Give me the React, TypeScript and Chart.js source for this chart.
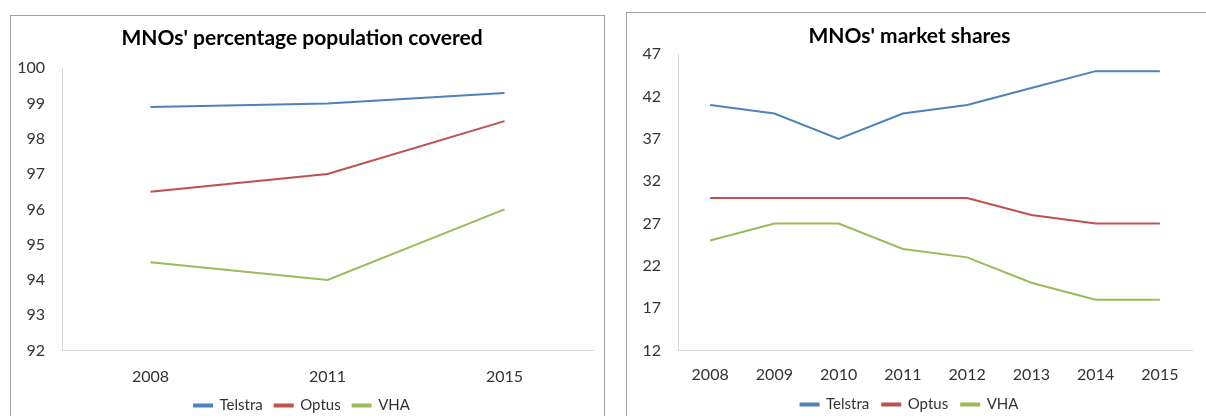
import React, { useEffect, useRef } from "react";
import { Chart, registerables } from "chart.js";

Chart.register(...registerables);

const coverageYears = ["2008", "2011", "2015"];
const coverageTelstra = [98.9, 99.0, 99.3];
const coverageOptus = [96.5, 97.0, 98.5];
const coverageVHA = [94.5, 94.0, 96.0];

const shareYears = ["2008", "2009", "2010", "2011", "2012", "2013", "2014", "2015"];
const shareTelstra = [41, 40, 37, 40, 41, 43, 45, 45];
const shareOptus = [30, 30, 30, 30, 30, 28, 27, 27];
const shareVHA = [25, 27, 27, 24, 23, 20, 18, 18];

const seriesNames = ["Telstra", "Optus", "VHA"];
const seriesColors = ["#4F81BD", "#C0504D", "#9BBB59"];

const FONT = "Lato, 'Open Sans', 'DejaVu Sans', sans-serif";

type Cfg = {
  title: string;
  labels: string[];
  values: number[][];
  yMin: number;
  yMax: number;
  yStep: number;
  titlePadTop: number;
  titlePadBottom: number;
  padRight: number;
  xPad: number;
  xHeight: number;
  legendPad: number;
};

function makeChart(canvas: HTMLCanvasElement, cfg: Cfg) {
  return new Chart(canvas, {
    type: "line",
    data: {
      labels: cfg.labels,
      datasets: cfg.values.map((vals, i) => ({
        label: seriesNames[i],
        data: vals,
        borderColor: seriesColors[i],
        backgroundColor: seriesColors[i],
        borderWidth: 2,
        pointRadius: 0,
        tension: 0,
      })),
    },
    options: {
      responsive: false,
      animation: false,
      events: [],
      layout: { padding: { left: 0, right: cfg.padRight, top: 0, bottom: 0 } },
      plugins: {
        title: {
          display: true,
          text: cfg.title,
          color: "#000",
          font: { family: FONT, size: 21, weight: "bold" },
          padding: { top: cfg.titlePadTop, bottom: cfg.titlePadBottom },
        },
        legend: {
          display: true,
          position: "bottom",
          labels: {
            color: "#333",
            font: { family: FONT, size: 15 },
            boxWidth: 18,
            boxHeight: 2,
            padding: cfg.legendPad,
          },
        },
        tooltip: { enabled: false },
      },
      scales: {
        x: {
          offset: true,
          grid: { display: false, drawTicks: false },
          border: { display: true, color: "#d9d9d9", width: 1 },
          ticks: {
            color: "#333",
            font: { family: FONT, size: 16 },
            padding: cfg.xPad,
            maxRotation: 0,
            autoSkip: false,
          },
          afterFit: (scale: any) => {
            scale.height = cfg.xHeight;
          },
        },
        y: {
          min: cfg.yMin,
          max: cfg.yMax,
          grid: { display: false, drawTicks: false },
          border: { display: true, color: "#d9d9d9", width: 1 },
          ticks: {
            stepSize: cfg.yStep,
            color: "#333",
            font: { family: FONT, size: 16 },
            padding: 17,
          },
          afterFit: (scale: any) => {
            scale.width = 51;
          },
        },
      },
    },
  });
}

function ChartBox(props: {
  left: number;
  top: number;
  width: number;
  height: number;
  canvasW: number;
  canvasH: number;
  cfg: Cfg;
}) {
  const ref = useRef<HTMLCanvasElement | null>(null);
  useEffect(() => {
    if (!ref.current) return;
    const ch = makeChart(ref.current, props.cfg);
    return () => ch.destroy();
  }, []);
  return (
    <div
      style={{
        position: "absolute",
        left: props.left,
        top: props.top,
        width: props.width,
        height: props.height,
        border: "1px solid #a0a0a0",
        boxSizing: "border-box",
        background: "#fff",
      }}
    >
      <canvas
        ref={ref}
        width={props.canvasW}
        height={props.canvasH}
        style={{ position: "absolute", left: 0, top: 0, width: props.canvasW, height: props.canvasH }}
      />
    </div>
  );
}

export default function App() {
  return (
    <div
      style={{
        position: "absolute",
        left: 0,
        top: 0,
        width: 1206,
        height: 416,
        overflow: "hidden",
        background: "#fff",
      }}
    >
      <ChartBox
        left={10}
        top={15}
        width={595}
        height={430}
        canvasW={592}
        canvasH={407}
        cfg={{
          title: "MNOs' percentage population covered",
          labels: coverageYears,
          values: [coverageTelstra, coverageOptus, coverageVHA],
          yMin: 92,
          yMax: 100,
          yStep: 1,
          titlePadTop: 10,
          titlePadBottom: 17,
          padRight: 10,
          xPad: 17,
          xHeight: 35.5,
          legendPad: 12,
        }}
      />
      <ChartBox
        left={626}
        top={12}
        width={620}
        height={430}
        canvasW={579}
        canvasH={409}
        cfg={{
          title: "MNOs' market shares",
          labels: shareYears,
          values: [shareTelstra, shareOptus, shareVHA],
          yMin: 12,
          yMax: 47,
          yStep: 5,
          titlePadTop: 11,
          titlePadBottom: 5,
          padRight: 14,
          xPad: 15,
          xHeight: 33.5,
          legendPad: 13,
        }}
      />
    </div>
  );
}
